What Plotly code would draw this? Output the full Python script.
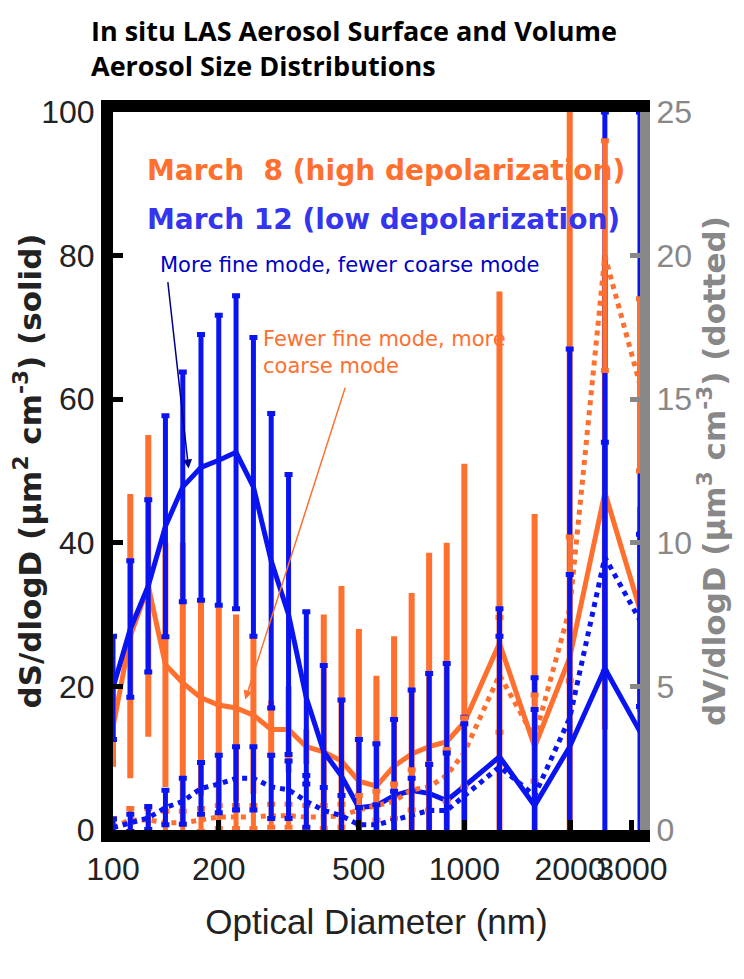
import plotly.graph_objects as go

diam = [100,112,126,141,158,178,200,224,251,282,316,355,398,447,501,562,631,708,794,891,1000,1259,1585,1995,2512,3162]

s_mar8 = [14.3,27,34,23,20.5,18.4,17.4,17,16,14,14,11.6,10.9,9.6,6.8,6.1,8.9,10.6,11.6,12.3,15,26,11.6,24,47,30.7]
s_mar8_hi = [19.8,46.8,55,40,40,32,31,30,27,18,20,14,30,34,28,21.5,27,33,38.6,40,51,75,44,100,80,45]

s_mar12 = [19.8,28,34,42.3,47.8,50.5,51.5,52.6,47.8,37.5,30,18.4,10.9,7.5,3.1,3.4,4.8,5.5,5.1,4.1,6.1,10.2,3.4,11.6,22.5,13.7]
s_mar12_hi = [27,37.5,46,57.7,63.8,69,71.7,74.4,68.6,58,49.5,30.4,22.9,18.1,12.6,12,15.4,19.5,21.8,23.2,15.7,27,21.2,67,100,100]

v_mar8 = [0.1,0.35,0.35,0.25,0.25,0.35,0.45,0.45,0.45,0.5,0.5,0.45,0.45,0.5,0.7,0.85,1.0,1.4,1.5,1.9,2.7,5.4,3.2,7.7,20,15.5]
v_mar8_err = [0.3,0.4,0.4,0.4,0.4,0.4,0.4,0.4,0.4,0.4,0.4,0.4,0.4,0.4,0.5,0.5,0.6,0.7,0.8,0.9,1.2,2,1.5,2.5,4,3]
v_mar12 = [0.08,0.25,0.42,0.78,1.0,1.45,1.6,1.8,1.8,1.5,1.4,1.0,0.68,0.5,0.18,0.18,0.35,0.5,0.68,0.68,1.2,2.2,1.2,3.9,9.5,7.3]
v_mar12_err = [0.3,0.3,0.4,0.6,0.8,0.9,1.0,1.1,1.1,1.1,1.0,0.9,0.8,0.7,0.6,0.7,1.0,1.3,1.6,2.0,2.5,5.5,3,5,4,3]

ORANGE = "#ff6f2e"
BLUE = "#0a14f0"

def err(v, hi):
    return [max(h - x, 0) for x, h in zip(v, hi)]

fig = go.Figure()
fig.add_trace(go.Scatter(x=diam, y=v_mar8, yaxis="y2", mode="lines",
    line=dict(color=ORANGE, width=5, dash="dot"),
    error_y=dict(type="data", array=v_mar8_err, color=ORANGE, thickness=5, width=4)))
fig.add_trace(go.Scatter(x=diam, y=v_mar12, yaxis="y2", mode="lines",
    line=dict(color=BLUE, width=5, dash="dot"),
    error_y=dict(type="data", array=v_mar12_err, color=BLUE, thickness=5, width=4)))
fig.add_trace(go.Scatter(x=diam, y=s_mar8, mode="lines",
    line=dict(color=ORANGE, width=5),
    error_y=dict(type="data", array=err(s_mar8, s_mar8_hi), color=ORANGE, thickness=6, width=0)))
fig.add_trace(go.Scatter(x=diam, y=s_mar12, mode="lines",
    line=dict(color=BLUE, width=5),
    error_y=dict(type="data", array=err(s_mar12, s_mar12_hi), color=BLUE, thickness=5, width=4)))

tickfont = dict(family="Liberation Sans, sans-serif", size=32, color="#222")
fig.update_layout(
    width=744, height=979, showlegend=False,
    paper_bgcolor="white", plot_bgcolor="white",
    margin=dict(l=98, r=112, t=104, b=157),
    xaxis=dict(type="log", range=[2, 3.5], tickvals=[100,200,500,1000,2000,3000],
               ticktext=["100","200","500","1000","2000","3000"], tickfont=tickfont, tickangle=0,
               showgrid=False, zeroline=False, showline=True, linecolor="black", linewidth=12,
               mirror=True, ticks="inside", ticklen=10, tickwidth=5, tickcolor="black",
               title=dict(text="Optical Diameter (nm)", font=dict(family="Liberation Sans, sans-serif", size=35, color="#222"), standoff=28)),
    yaxis=dict(range=[0, 100], tickvals=[0,20,40,60,80,100], tickfont=tickfont,
               showgrid=False, zeroline=False, showline=True, linecolor="black", linewidth=12,
               ticks="inside", ticklen=10, tickwidth=5, tickcolor="black",
               title=dict(text="<b>dS/dlogD (μm<sup>2</sup> cm<sup>-3</sup>) (solid)</b>", font=dict(family="DejaVu Sans", size=31, color="#222"), standoff=0)),
    yaxis2=dict(range=[0, 25], overlaying="y", side="right", tickvals=[0,5,10,15,20,25],
                tickfont=dict(family="Liberation Sans, sans-serif", size=32, color="#888"),
                showgrid=False, zeroline=False, showline=True, linecolor="#888", linewidth=10,
                ticks="inside", ticklen=10, tickwidth=5, tickcolor="#888",
                title=dict(text="<b>dV/dlogD (μm<sup>3</sup> cm<sup>-3</sup>) (dotted)</b>", font=dict(family="DejaVu Sans", size=31, color="#888"), standoff=2)),
)

fig.add_annotation(text="<b>In situ LAS Aerosol Surface and Volume<br>Aerosol Size Distributions</b>",
    xref="paper", yref="paper", x=-0.045, y=1.0, yshift=102, xanchor="left", yanchor="top", align="left",
    showarrow=False, font=dict(family="Open Sans, sans-serif", size=27, color="black"))
fig.add_annotation(text="<b>March  8 (high depolarization)</b>", xref="paper", yref="paper",
    x=0.06, y=0.918, xanchor="left", yanchor="middle", showarrow=False,
    font=dict(family="DejaVu Sans", size=28, color=ORANGE))
fig.add_annotation(text="<b>March 12 (low depolarization)</b>", xref="paper", yref="paper",
    x=0.06, y=0.85, xanchor="left", yanchor="middle", showarrow=False,
    font=dict(family="DejaVu Sans", size=28, color="#3535ee"))
fig.add_annotation(text="More fine mode, fewer coarse mode", xref="paper", yref="paper",
    x=0.085, y=0.787, xanchor="left", yanchor="middle", showarrow=False,
    font=dict(family="DejaVu Sans", size=21, color="#0000c8"))
fig.add_annotation(text="Fewer fine mode, more<br>coarse mode", xref="paper", yref="paper",
    x=0.28, y=0.665, xanchor="left", yanchor="middle", align="left", showarrow=False,
    font=dict(family="DejaVu Sans", size=21, color=ORANGE))
fig.add_annotation(xref="x domain", yref="y domain", axref="x domain", ayref="y domain",
    x=(178-102)/530, y=(822-462)/715, ax=(157-102)/530, ay=(822-275)/715,
    showarrow=True, arrowhead=2, arrowsize=1.2, arrowwidth=1.5, arrowcolor="#00008b", text="")
fig.add_annotation(xref="x domain", yref="y domain", axref="x domain", ayref="y domain",
    x=(235-102)/530, y=(822-692)/715, ax=(336-102)/530, ay=(822-380)/715,
    showarrow=True, arrowhead=2, arrowsize=1.2, arrowwidth=1.5, arrowcolor=ORANGE, text="")

fig.write_html("out.html")
